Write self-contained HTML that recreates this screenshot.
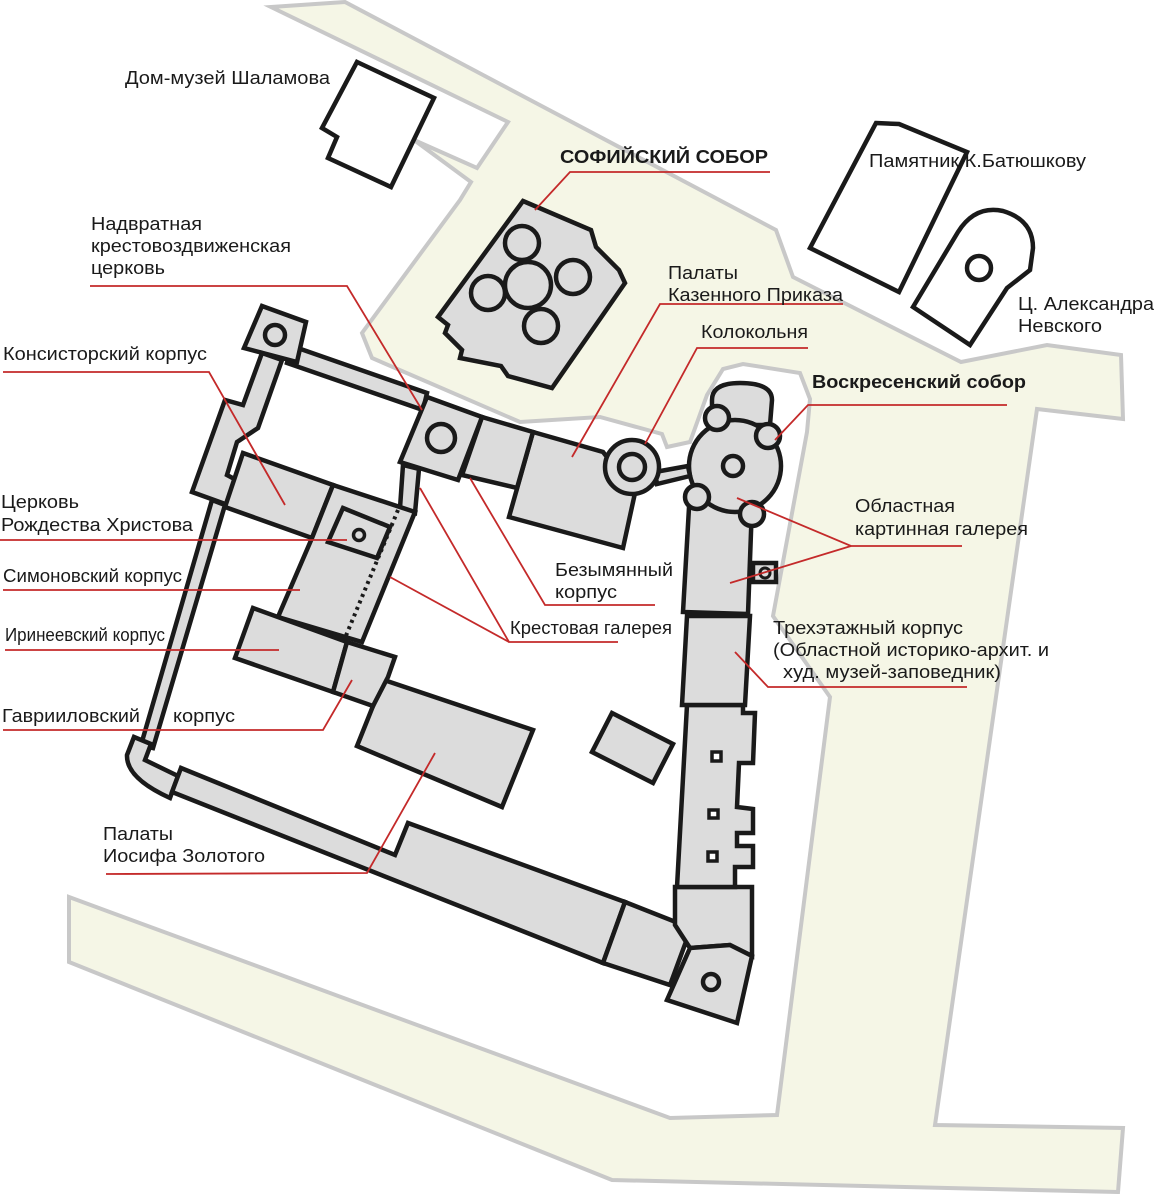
<!DOCTYPE html>
<html><head><meta charset="utf-8"><style>
html,body{margin:0;padding:0;background:#fff;width:1154px;height:1194px;overflow:hidden}
svg{display:block}
text{font-family:"Liberation Sans","DejaVu Sans",sans-serif;font-size:18px;fill:#1a1a1a}
.b{stroke:#1a1a1a;stroke-width:4.5;fill:#dcdcdc;stroke-linejoin:miter}
.w{stroke:#1a1a1a;stroke-width:4.5;fill:#fff}
.r{stroke:#c42a2a;stroke-width:1.8;fill:none}
</style></head><body>
<svg width="1154" height="1194" viewBox="0 0 1154 1194" xmlns="http://www.w3.org/2000/svg">
<!-- cream ground -->
<polygon fill="#f5f6e6" stroke="#c8c8c8" stroke-width="4" stroke-linejoin="miter"
 points="271,7 345,2 776,230 793,277 961,362 1047,345 1121,355 1123,419 1037,409 935,1125 1123,1128 1118,1192 612,1180 69,962 69,897 670,1118 777,1115 830,697 773,616 807,432 810,399 800,373 743,364 723,369 707,395 690,442 667,447 662,434 600,417 520,422 372,358 362,333 460,200 471,182 414,140 477,168 508,122"/>
<!-- Shalamov house -->
<polygon class="w" points="357,62 434,98 391,187 328,158 337,137 322,128"/>
<!-- Sophia -->
<polygon class="b" points="523,201 591,230 596,247 619,270 625,283 552,388 508,376 501,366 460,358 462,350 445,333 448,325 438,317"/>
<circle class="b" cx="522" cy="243" r="17"/>
<circle class="b" cx="573" cy="277" r="17"/>
<circle class="b" cx="488" cy="293" r="17"/>
<circle class="b" cx="541" cy="326" r="17"/>
<circle class="b" cx="528" cy="285" r="23"/>
<!-- Batyushkov -->
<polygon class="w" points="876,123 899,124 967,152 899,292 810,248"/>
<!-- Nevsky -->
<path class="w" d="M913,307 L958,232 Q975,205 1003,211 Q1033,220 1033,248 L1030,270 L1007,288 L970,345 Z"/>
<circle class="w" cx="979" cy="268" r="12"/>
<!-- north wall -->
<polygon class="b" stroke-width="4" points="292,346 427,393 423,410 287,363"/>
<!-- NW tower -->
<polygon class="b" points="262,306 306,322 297,362 244,348"/>
<circle class="b" cx="275" cy="335" r="10"/>
<!-- west arm -->
<polygon class="b" points="262,353 282,360 258,428 237,442 227,475 240,482 228,505 192,492 225,400 243,405"/>
<!-- west long wall -->
<polygon class="b" stroke-width="4" points="212,500 225,505 153,748 141,745"/>
<!-- SW corner -->
<path class="b" d="M134,737 L151,744 L145,760 L178,776 L170,798 Q126,778 127,755 Z"/>
<!-- south wall -->
<polygon class="b" points="181,768 395,855 408,823 625,902 603,963 172,792"/>
<polygon class="b" points="625,902 691,928 670,985 603,963"/>
<!-- SE -->
<polygon class="b" points="675,887 752,887 752,956 730,945 690,948 675,925"/>
<polygon class="b" points="690,948 730,945 752,956 737,1023 667,1000"/>
<circle class="b" cx="711" cy="982" r="8" stroke-width="3.5"/>
<!-- east notched block -->
<polygon class="b" points="687,705 743,705 743,713 755,713 753,763 739,763 737,807 753,809 753,833 737,833 737,846 753,846 753,867 735,867 735,887 677,887"/>
<rect x="712" y="752" width="9" height="9" fill="#fff" stroke="#1a1a1a" stroke-width="3.5"/>
<rect x="709" y="810" width="9" height="8" fill="#fff" stroke="#1a1a1a" stroke-width="3.5"/>
<rect x="708" y="852" width="9" height="9" fill="#fff" stroke="#1a1a1a" stroke-width="3.5"/>
<polygon class="b" points="687,616 750,616 745,705 682,705"/>
<polygon class="b" points="690,490 752,505 748,614 683,612"/>
<!-- cathedral -->
<path class="b" d="M712,425 L712,400 Q712,383 740,383 Q772,383 772,400 L770,425 Z"/>
<circle class="b" cx="735" cy="466" r="46"/>
<circle class="b" cx="733" cy="466" r="10"/>
<circle class="b" cx="717" cy="418" r="12"/>
<circle class="b" cx="768" cy="436" r="12"/>
<circle class="b" cx="697" cy="497" r="12"/>
<circle class="b" cx="752" cy="514" r="12"/>
<rect x="753" y="563" width="23" height="19" class="b" stroke-width="3.5"/>
<circle cx="765" cy="573" r="5" fill="none" stroke="#1a1a1a" stroke-width="3"/>
<!-- link bell tower -> cathedral -->
<polygon class="b" stroke-width="3.5" points="655,472 688,466 690,476 657,484"/>
<!-- Kazenny prikaz -->
<polygon class="b" points="533,432 603,452 635,493 623,548 509,517"/>
<polygon class="b" points="482,417 533,432 517,488 462,475"/>
<!-- bell tower -->
<circle class="b" cx="632" cy="467" r="27"/>
<circle class="b" cx="632" cy="467" r="13"/>
<!-- gate church -->
<polygon class="b" points="427,397 482,417 458,480 400,462"/>
<circle class="b" cx="441" cy="438" r="14"/>
<!-- gallery corridor -->
<polygon class="b" stroke-width="4" points="403,465 419,469 415,513 400,508"/>
<!-- Konsistorsky -->
<polygon class="b" points="243,453 333,485 312,538 225,507"/>
<!-- Simonovsky -->
<polygon class="b" points="333,485 415,512 362,642 278,617 312,538"/>
<line x1="398" y1="510" x2="345" y2="638" stroke="#1a1a1a" stroke-width="4" stroke-dasharray="3,4"/>
<polygon class="b" points="343,508 390,527 377,558 328,542"/>
<circle cx="359" cy="535" r="5.5" fill="none" stroke="#1a1a1a" stroke-width="3.5"/>
<!-- Irineevsky -->
<polygon class="b" points="253,608 347,642 333,692 235,658"/>
<!-- Iosif palace -->
<polygon class="b" points="384,680 533,730 502,807 357,746 373,706"/>
<!-- Gavriilovsky -->
<polygon class="b" points="347,642 395,657 388,677 373,706 333,692"/>
<!-- small detached -->
<polygon class="b" points="612,713 673,744 653,783 592,752"/>

<!-- leader lines -->
<polyline class="r" points="770,172 570,172 535,210"/>
<polyline class="r" points="90,286 347,286 422,410"/>
<polyline class="r" points="843,304 660,304 572,457"/>
<polyline class="r" points="808,348 697,348 645,444"/>
<polyline class="r" points="1007,405 808,405 775,440"/>
<polyline class="r" points="3,372 209,372 285,505"/>
<polyline class="r" points="0,540 347,540"/>
<polyline class="r" points="3,590 300,590"/>
<polyline class="r" points="5,650 279,650"/>
<polyline class="r" points="3,730 323,730 352,680"/>
<polyline class="r" points="106,874 367,873 435,753"/>
<polyline class="r" points="655,605 545,605 470,478"/>
<polyline class="r" points="618,642 509,642 420,488"/>
<polyline class="r" points="509,642 390,577"/>
<polyline class="r" points="962,546 851,546 737,498"/>
<polyline class="r" points="851,546 730,583"/>
<polyline class="r" points="967,687 768,687 735,652"/>

<!-- labels -->
<text x="125" y="84" textLength="205" lengthAdjust="spacingAndGlyphs">Дом-музей Шаламова</text>
<text x="560" y="163" font-weight="bold" textLength="208" lengthAdjust="spacingAndGlyphs">СОФИЙСКИЙ СОБОР</text>
<text x="869" y="167" textLength="217" lengthAdjust="spacingAndGlyphs">Памятник К.Батюшкову</text>
<text x="1018" y="310" textLength="136" lengthAdjust="spacingAndGlyphs">Ц. Александра</text>
<text x="1018" y="332" textLength="84" lengthAdjust="spacingAndGlyphs">Невского</text>
<text x="91" y="230" textLength="111" lengthAdjust="spacingAndGlyphs">Надвратная</text>
<text x="91" y="252" textLength="200" lengthAdjust="spacingAndGlyphs">крестовоздвиженская</text>
<text x="91" y="274" textLength="74" lengthAdjust="spacingAndGlyphs">церковь</text>
<text x="668" y="279" textLength="70" lengthAdjust="spacingAndGlyphs">Палаты</text>
<text x="668" y="301" textLength="175" lengthAdjust="spacingAndGlyphs">Казенного Приказа</text>
<text x="701" y="338" textLength="107" lengthAdjust="spacingAndGlyphs">Колокольня</text>
<text x="812" y="388" font-weight="bold" textLength="214" lengthAdjust="spacingAndGlyphs">Воскресенский собор</text>
<text x="3" y="360" textLength="204" lengthAdjust="spacingAndGlyphs">Консисторский корпус</text>
<text x="1" y="508" textLength="78" lengthAdjust="spacingAndGlyphs">Церковь</text>
<text x="1" y="531" textLength="192" lengthAdjust="spacingAndGlyphs">Рождества Христова</text>
<text x="3" y="582" textLength="179" lengthAdjust="spacingAndGlyphs">Симоновский корпус</text>
<text x="5" y="641" font-size="16" textLength="160" lengthAdjust="spacingAndGlyphs">Иринеевский корпус</text>
<text x="2" y="722" textLength="138" lengthAdjust="spacingAndGlyphs">Гаврииловский</text>
<text x="173" y="722" textLength="62" lengthAdjust="spacingAndGlyphs">корпус</text>
<text x="103" y="840" textLength="70" lengthAdjust="spacingAndGlyphs">Палаты</text>
<text x="103" y="862" textLength="162" lengthAdjust="spacingAndGlyphs">Иосифа Золотого</text>
<text x="555" y="576" textLength="118" lengthAdjust="spacingAndGlyphs">Безымянный</text>
<text x="555" y="598" textLength="62" lengthAdjust="spacingAndGlyphs">корпус</text>
<text x="510" y="634" textLength="162" lengthAdjust="spacingAndGlyphs">Крестовая галерея</text>
<text x="855" y="512" textLength="100" lengthAdjust="spacingAndGlyphs">Областная</text>
<text x="855" y="535" textLength="173" lengthAdjust="spacingAndGlyphs">картинная галерея</text>
<text x="773" y="634" textLength="190" lengthAdjust="spacingAndGlyphs">Трехэтажный корпус</text>
<text x="773" y="656" textLength="276" lengthAdjust="spacingAndGlyphs">(Областной историко-архит. и</text>
<text x="783" y="678" textLength="218" lengthAdjust="spacingAndGlyphs">худ. музей-заповедник)</text>
</svg>
</body></html>
